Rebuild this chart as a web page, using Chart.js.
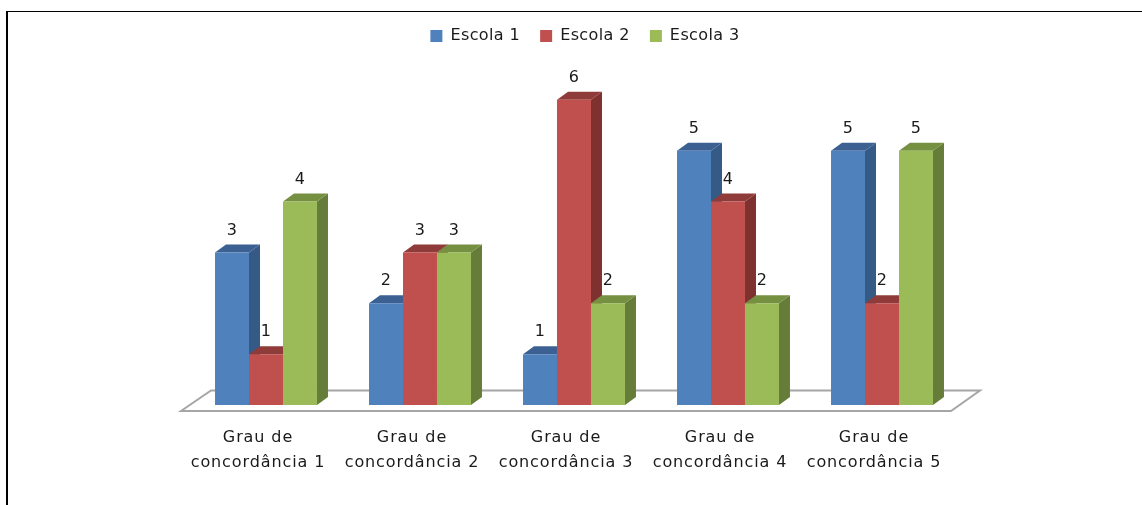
<!DOCTYPE html>
<html lang="pt-BR">
<head>
  <meta charset="UTF-8">
  <title>Grau de concordância por escola</title>
  <script src="https://cdn.jsdelivr.net/npm/chart.js"></script>
  <style>
    * {
      box-sizing: border-box;
    }
    html, body {
      margin: 0;
      height: 100%;
      background: #fff;
    }
    .quadro {
      position: absolute;
      left: 6px;
      top: 11px;
      right: 0;
      bottom: 0;
      border-left: 2px solid #000;
      border-top: 1px solid #000;
    }
    .grafico {
      position: absolute;
      left: 0;
      top: 0;
      width: 1142px;
      height: 505px;
    }
  </style>
</head>
<body>
  <div class="quadro"></div>
  <div class="grafico"><canvas id="grafico"></canvas></div>

  <script>
    const categorias = [
      ["Grau de", "concordância 1"],
      ["Grau de", "concordância 2"],
      ["Grau de", "concordância 3"],
      ["Grau de", "concordância 4"],
      ["Grau de", "concordância 5"]
    ];
    const escola1 = [3, 2, 1, 5, 5];
    const escola2 = [1, 3, 6, 4, 2];
    const escola3 = [4, 3, 2, 2, 5];

    const fonte = "'DejaVu Sans', sans-serif";
    const corTexto = "#1a1a1a";

    // profundidade das faces laterais das barras
    const profX = 11;
    const profY = 8;

    function poligono(ctx, pontos, cor) {
      ctx.fillStyle = cor;
      ctx.beginPath();
      pontos.forEach((p, i) => i ? ctx.lineTo(p[0], p[1]) : ctx.moveTo(p[0], p[1]));
      ctx.closePath();
      ctx.fill();
    }

    // espaçamento das letras da legenda; o contexto perde o valor quando o canvas muda de tamanho
    const espacamento = {
      id: "espacamento",
      beforeUpdate(chart) { chart.ctx.letterSpacing = "0.4px"; },
      beforeDraw(chart) { chart.ctx.letterSpacing = "0.4px"; },
      afterLayout(chart) {
        // legenda um pouco à direita do centro da área das barras
        chart.legend.left += 11;
        chart.legend.right += 11;
      }
    };

    // piso em perspectiva, desenhado antes das barras
    const piso = {
      id: "piso",
      beforeDatasetsDraw(chart) {
        const { ctx, chartArea: a } = chart;
        const y = a.bottom;
        ctx.save();
        ctx.strokeStyle = "#a6a6a6";
        ctx.lineWidth = 2;
        ctx.beginPath();
        ctx.moveTo(a.left - 8, y + 6);
        ctx.lineTo(a.left + 22, y - 14.5);
        ctx.lineTo(a.right + 21, y - 14.5);
        ctx.lineTo(a.right - 8, y + 6);
        ctx.closePath();
        ctx.stroke();
        ctx.restore();
      }
    };

    // faces superior e lateral de cada barra; a frente fica por conta do Chart.js
    const barras3d = {
      id: "barras3d",
      beforeDatasetsDraw(chart) {
        const { ctx } = chart;
        ctx.save();
        chart.data.datasets.forEach((ds, i) => {
          chart.getDatasetMeta(i).data.forEach((bar) => {
            const e = bar.x - bar.width / 2;
            const d = bar.x + bar.width / 2;
            poligono(ctx, [[d, bar.y], [d + profX, bar.y - profY], [d + profX, bar.base - profY], [d, bar.base]], ds.corLado);
            poligono(ctx, [[e, bar.y], [e + profX, bar.y - profY], [d + profX, bar.y - profY], [d, bar.y]], ds.corTopo);
          });
        });
        ctx.restore();
      },
      afterDatasetsDraw(chart) {
        const { ctx, scales, chartArea } = chart;
        ctx.save();
        ctx.font = "16px " + fonte;
        ctx.fillStyle = corTexto;
        ctx.textAlign = "center";
        ctx.textBaseline = "middle";
        // valores acima das barras
        chart.data.datasets.forEach((ds, i) => {
          chart.getDatasetMeta(i).data.forEach((bar, j) => {
            ctx.fillText(ds.data[j], bar.x, bar.y - 22);
          });
        });
        // rótulos das categorias, alinhados à frente do piso
        ctx.letterSpacing = "0.9px";
        categorias.forEach((linhas, j) => {
          const x = scales.x.getPixelForTick(j) - 8;
          linhas.forEach((linha, n) => {
            ctx.fillText(linha, x, chartArea.bottom + 33 + n * 25);
          });
        });
        ctx.restore();
      }
    };

    new Chart(document.getElementById("grafico"), {
      type: "bar",
      data: {
        labels: categorias,
        datasets: [
          { label: "Escola 1", data: escola1, backgroundColor: "#4f81bd", corLado: "#355a85", corTopo: "#3b6091" },
          { label: "Escola 2", data: escola2, backgroundColor: "#c0504d", corLado: "#7f3130", corTopo: "#8f3b39" },
          { label: "Escola 3", data: escola3, backgroundColor: "#9bbb59", corLado: "#667c39", corTopo: "#769042" }
        ]
      },
      options: {
        responsive: true,
        maintainAspectRatio: false,
        animation: false,
        barPercentage: 1,
        categoryPercentage: 0.662,
        layout: { padding: { left: 189, right: 183, top: 8, bottom: 0 } },
        plugins: {
          tooltip: { enabled: false },
          legend: {
            position: "top",
            labels: {
              boxWidth: 12,
              boxHeight: 12,
              padding: 20,
              color: corTexto,
              font: { family: fonte, size: 16 }
            }
          }
        },
        scales: {
          x: {
            grid: { display: false },
            border: { display: false },
            afterFit(scale) { scale.height = 100; },
            ticks: { display: false }
          },
          y: {
            display: false,
            min: 0,
            max: 6.9
          }
        }
      },
      plugins: [espacamento, piso, barras3d]
    });
  </script>
</body>
</html>
